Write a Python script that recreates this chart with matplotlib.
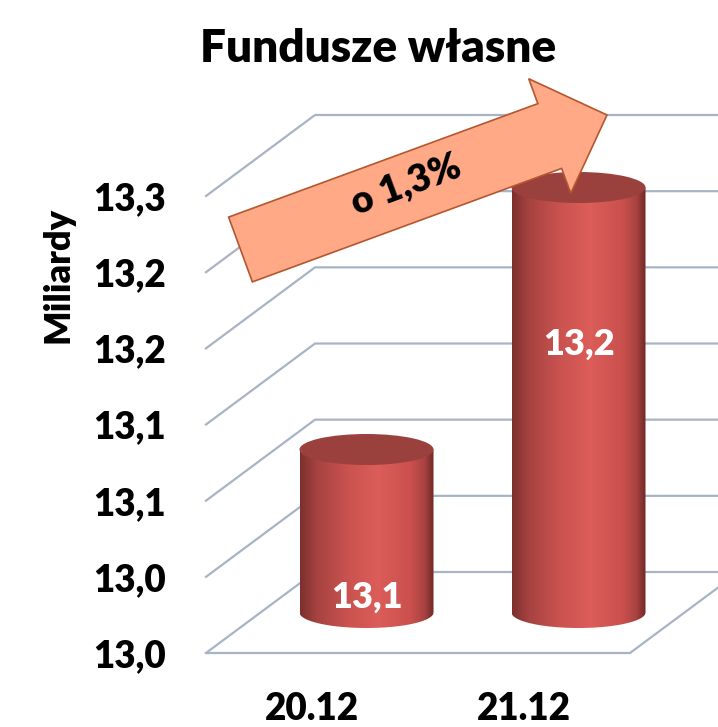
import numpy as np
import matplotlib
matplotlib.use("Agg")
import matplotlib.pyplot as plt
from matplotlib.patches import Ellipse, PathPatch, FancyArrow
from matplotlib.path import Path
from matplotlib.colors import LinearSegmentedColormap

# ---------------- data ----------------
categories = ["20.12", "21.12"]
values = [13.057, 13.229]
value_labels = ["13,1", "13,2"]
tick_values = [12.95, 13.00, 13.05, 13.10, 13.15, 13.20, 13.25]
tick_labels = ["13,0", "13,0", "13,1", "13,1", "13,2", "13,2", "13,3"]
title = "Fundusze własne"
ylabel = "Miliardy"
change_label = "o 1,3%"

# ---------------- style / geometry ----------------
FONT = ["Lato", "DejaVu Sans"]
plt.rcParams["font.family"] = FONT
WEIGHT = "heavy"
W, H, DPI = 718, 727, 100
ymin = tick_values[0]
px_per_val = 1523.3       # pixels per value unit
px_per_cat = 212.0        # pixels per category unit
ax_left_px, ax_bottom_px = 206, 74
DX = 109 / px_per_cat      # depth offset (x, data units)
DY = 81 / px_per_val       # depth offset (y, data units)
RX = 67 / px_per_cat       # cylinder half width
RY = 15.5 / px_per_val     # ellipse half height
grid_col = "#A8B4C6"
label_frac = [0.095, 0.63]

fig = plt.figure(figsize=(W / DPI, H / DPI), dpi=DPI)
ax = fig.add_axes([ax_left_px / W, ax_bottom_px / H,
                   (W - ax_left_px) / W, (H - ax_bottom_px) / H])
x0 = -0.5
for s in ax.spines.values():
    s.set_visible(False)
ax.set_facecolor("none")

n = len(categories)
x1 = x0 + n

# gridlines: left wall diagonals and back wall horizontals
for v in tick_values:
    ax.plot([x0, x0 + DX, x1 + DX + 2], [v, v + DY, v + DY],
            color=grid_col, lw=1.6, clip_on=False, zorder=1,
            solid_joinstyle="miter")
# floor front and right edges
ax.plot([x0, x1, x1 + DX], [ymin, ymin, ymin + DY], color=grid_col,
        lw=1.6, clip_on=False, zorder=1, solid_joinstyle="miter")

# cylinders
cmap = LinearSegmentedColormap.from_list(
    "cyl", [(0.0, "#7C302E"), (0.12, "#A5423F"), (0.35, "#C9524F"),
            (0.58, "#DC5D59"), (0.82, "#CB514E"), (0.93, "#A94341"),
            (1.0, "#6E2927")])
grad = np.linspace(0, 1, 256).reshape(1, -1)
base = ymin + DY / 2
for i, (val, lab) in enumerate(zip(values, value_labels)):
    xc = i + DX / 2
    top = val + DY / 2
    xl, xr = xc - RX, xc + RX
    th = np.linspace(np.pi, 2 * np.pi, 80)
    verts = [(xl, top), (xl, base)]
    verts += list(zip(xc + RX * np.cos(th), base + RY * np.sin(th)))
    verts += [(xr, top), (xl, top)]
    codes = [Path.MOVETO] + [Path.LINETO] * (len(verts) - 2) + [Path.CLOSEPOLY]
    body = PathPatch(Path(verts, codes), facecolor="none", edgecolor="none",
                     zorder=2)
    ax.add_patch(body)
    im = ax.imshow(grad, cmap=cmap, extent=[xl, xr, base - RY, top],
                   aspect="auto", zorder=2, interpolation="bilinear")
    im.set_clip_path(body)
    ax.add_patch(Ellipse((xc, top), 2 * RX, 2 * RY, facecolor="#9A403D",
                         edgecolor="none", zorder=3))
    ly = base + label_frac[i] * (top - base)
    ax.text(xc, ly, lab, color="white", fontsize=26, fontweight=WEIGHT,
            ha="center", va="center", zorder=4)

ax.set_xlim(x0, x0 + (W - ax_left_px) / px_per_cat)
ax.set_ylim(ymin, ymin + (H - ax_bottom_px) / px_per_val)

ax.set_yticks(tick_values)
ax.set_yticklabels(tick_labels)
ax.set_xticks(range(n))
ax.set_xticklabels(categories)
ax.tick_params(axis="y", length=0, pad=29, labelsize=26.5)
ax.tick_params(axis="x", length=0, pad=28, labelsize=26.5)
for t in ax.get_yticklabels() + ax.get_xticklabels():
    t.set_fontweight(WEIGHT)

# title and axis label
fig.text(378 / W, 1 - 48 / H, title, fontsize=33, fontweight=WEIGHT,
         ha="center", va="center")
fig.text(58 / W, 1 - 275 / H, ylabel, fontsize=26, fontweight=WEIGHT,
         ha="center", va="center", rotation=90)

# change arrow (annotation, figure inches)
tr = fig.dpi_scale_trans
tail = (240.5 / DPI, (H - 249.5) / DPI)
tip = (607 / DPI, (H - 115) / DPI)
arr = FancyArrow(tail[0], tail[1], tip[0] - tail[0], tip[1] - tail[1],
                 width=0.69, head_width=1.22, head_length=0.61,
                 length_includes_head=True, transform=tr,
                 facecolor="#FFA987", edgecolor="#B4562E", lw=1.2, zorder=5)
fig.add_artist(arr)
ang = np.degrees(np.arctan2(tip[1] - tail[1], tip[0] - tail[0]))
fig.text(406 / DPI, (H - 184) / DPI, change_label, transform=tr,
         rotation=ang, rotation_mode="anchor", ha="center", va="center",
         fontsize=27, fontweight=WEIGHT, zorder=6)

fig.savefig("out.png", dpi=DPI)
